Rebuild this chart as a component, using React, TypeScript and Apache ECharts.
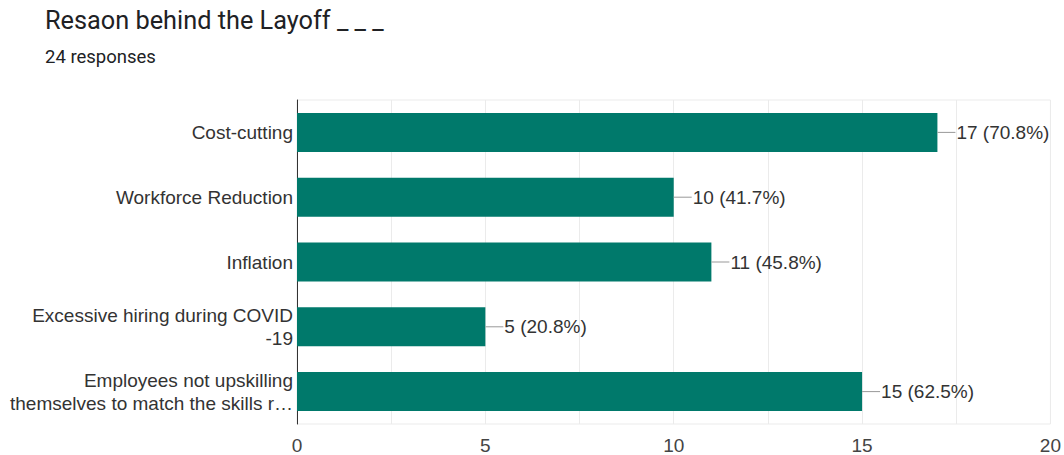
import React, { useEffect, useRef } from "react";
import * as echarts from "echarts";

const categories: string[] = [
  "Cost-cutting",
  "Workforce Reduction",
  "Inflation",
  "Excessive hiring during COVID\n-19",
  "Employees not upskilling\nthemselves to match the skills r…",
];
const counts: number[] = [17, 10, 11, 5, 15];
const totalResponses = 24;
const xTicks: number[] = [0, 5, 10, 15, 20];
const titleText = "Resaon behind the Layoff _ _ _";

const TITLE_FONT = "Roboto, 'Noto Sans', sans-serif";
const FONT = "'Liberation Sans', Arial, sans-serif";
const FS = 19;

export default function App() {
  const ref = useRef<HTMLDivElement>(null);
  useEffect(() => {
    if (!ref.current) return;
    const chart = echarts.init(ref.current, undefined, { renderer: "svg" });
    const labelData = counts.map((v, i) => [v, i]);
    chart.setOption({
      animation: false,
      graphic: [
        {
          type: "text",
          left: 45,
          top: 8,
          style: {
            text: titleText,
            fontFamily: TITLE_FONT,
            fontSize: 25.3,
            fill: "#202124",
          },
        },
        {
          type: "text",
          left: 45,
          top: 47,
          style: {
            text: `${totalResponses} responses`,
            fontFamily: TITLE_FONT,
            fontSize: 18.5,
            fill: "#202124",
          },
        },
      ],
      grid: {
        left: 297,
        right: 10,
        top: 100,
        bottom: 31,
        show: true,
        borderWidth: 1,
        borderColor: "#ebebeb",
        containLabel: false,
      },
      xAxis: {
        type: "value",
        min: 0,
        max: 20,
        interval: 2.5,
        axisLine: { show: false },
        axisTick: { show: false },
        splitLine: { show: true, lineStyle: { color: "#ebebeb", width: 1 } },
        axisLabel: {
          margin: 12,
          fontFamily: FONT,
          fontSize: FS,
          color: "#444",
          formatter: (v: number) => (xTicks.includes(v) ? String(v) : ""),
        },
      },
      yAxis: {
        type: "category",
        data: categories,
        inverse: true,
        axisLine: { show: true, lineStyle: { color: "#333", width: 1 } },
        axisTick: { show: false },
        splitLine: { show: false },
        axisLabel: {
          margin: 4,
          fontFamily: FONT,
          fontSize: FS,
          color: "#333",
          lineHeight: 23,
          align: "right",
        },
      },
      series: [
        {
          type: "bar",
          data: counts,
          barWidth: 39,
          itemStyle: { color: "#00796b" },
          silent: true,
        },
        {
          type: "custom",
          data: labelData,
          silent: true,
          z: 5,
          renderItem: (params: any, api: any) => {
            const v = api.value(0);
            const idx = api.value(1);
            const p = api.coord([v, idx]);
            const len = 18;
            const pct = ((v / totalResponses) * 100).toFixed(1);
            return {
              type: "group",
              children: [
                {
                  type: "line",
                  shape: { x1: p[0], y1: p[1], x2: p[0] + len, y2: p[1] },
                  style: { stroke: "#999", lineWidth: 1 },
                },
                {
                  type: "text",
                  x: p[0] + len + 1,
                  y: p[1],
                  style: {
                    text: `${v} (${pct}%)`,
                    fontFamily: FONT,
                    fontSize: FS,
                    fill: "#333",
                    verticalAlign: "middle",
                    align: "left",
                  },
                },
              ],
            };
          },
        },
      ],
    });
    return () => chart.dispose();
  }, []);
  return (
    <div
      ref={ref}
      style={{ position: "fixed", left: 0, top: 0, width: 1064, height: 455, background: "#fff" }}
    />
  );
}
